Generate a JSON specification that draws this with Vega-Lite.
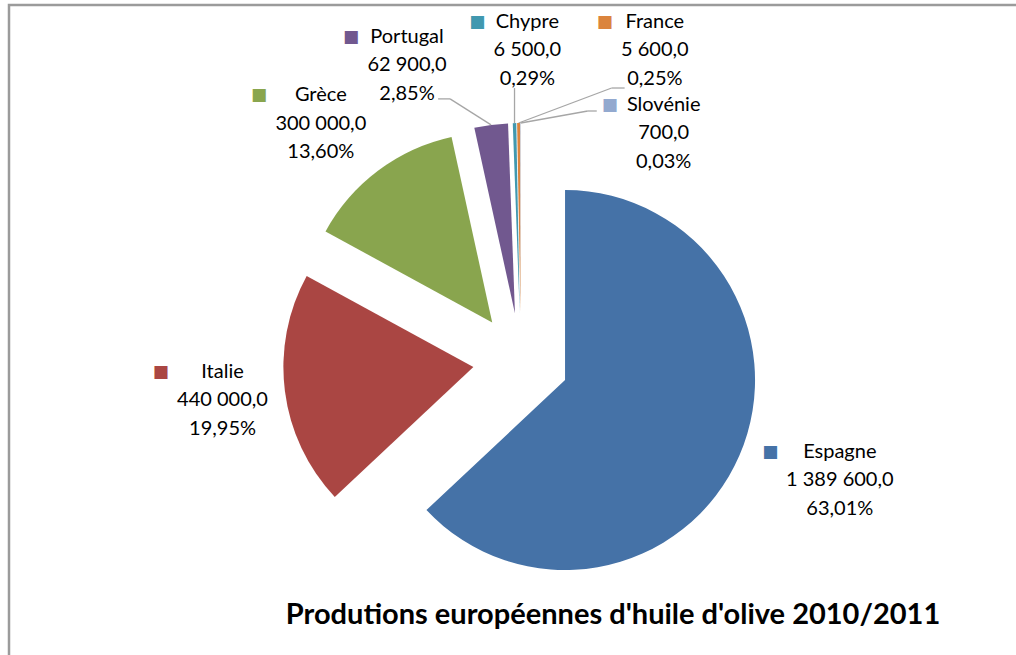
{
  "$schema": "https://vega.github.io/schema/vega-lite/v6.json",
  "width": 1013,
  "height": 656,
  "autosize": {"type": "none"},
  "padding": {"left": 9, "top": 5, "right": -6, "bottom": -6},
  "background": "white",
  "config": {
    "view": {"stroke": "#9b9b9b", "strokeWidth": 2.5},
    "locale": {"number": {"decimal": ",", "thousands": "\u00a0", "grouping": [3], "currency": ["", "\u00a0€"]}},
    "font": "Lato"
  },
  "params": [
    {"name": "ndx", "value": {"Espagne": 27, "Italie": 17, "Grèce": -9.5, "Portugal": -74, "Chypre": 15, "France": 137, "Slovénie": 143}},
    {"name": "ndy", "value": {"Espagne": -7, "Italie": -1, "Grèce": 17, "Portugal": 19.5, "Chypre": 7, "France": 7, "Slovénie": 90}},
    {"name": "lex", "value": {"Portugal": -41, "Chypre": 0, "France": 93, "Slovénie": 67}},
    {"name": "ley", "value": {"Portugal": -26, "Chypre": -35, "France": -35, "Slovénie": -12}},
    {"name": "lfx", "value": {"Portugal": -53, "Chypre": 0, "France": 106, "Slovénie": 76}}
  ],
  "title": {
    "text": "Produtions européennes d'huile d'olive 2010/2011",
    "orient": "bottom",
    "frame": "group",
    "anchor": "middle",
    "baseline": "alphabetic",
    "offset": -37,
    "dx": 97.5,
    "font": "Lato",
    "fontSize": 29,
    "fontWeight": "bold",
    "color": "#000000"
  },
  "data": {
    "values": [
      {"pays": "Espagne", "production": 1389600},
      {"pays": "Italie", "production": 440000},
      {"pays": "Grèce", "production": 300000},
      {"pays": "Portugal", "production": 62900},
      {"pays": "Chypre", "production": 6500},
      {"pays": "France", "production": 5600},
      {"pays": "Slovénie", "production": 700}
    ]
  },
  "transform": [
    {"window": [{"op": "sum", "field": "production", "as": "cum"}], "sort": [{"field": "production", "order": "descending"}], "frame": [null, 0]},
    {"joinaggregate": [{"op": "sum", "field": "production", "as": "total"}]},
    {"calculate": "(datum.cum - datum.production) / datum.total", "as": "f0"},
    {"calculate": "datum.cum / datum.total", "as": "f1"},
    {"calculate": "(datum.f0 + datum.f1) / 2", "as": "fm"},
    {"calculate": "sin(2 * PI * datum.fm)", "as": "ux"},
    {"calculate": "cos(2 * PI * datum.fm)", "as": "uy"},
    {"calculate": "datum.ux * (1 + 190 / 48)", "as": "ex"},
    {"calculate": "datum.uy * (1 + 190 / 48)", "as": "ey"},
    {"calculate": "format(datum.production, ',.1f')", "as": "vtxt"},
    {"calculate": "format(datum.production / datum.total, '.2%')", "as": "ptxt"},
    {"calculate": "datum.pays + '\\n' + datum.vtxt + '\\n' + datum.ptxt", "as": "lbl"},
    {"calculate": "length(datum.vtxt) - length(replace(datum.vtxt, regexp('[0-9]', 'g'), ''))", "as": "nd"},
    {"calculate": "length(datum.pays) > length(datum.vtxt) ? 9.25 * length(datum.pays) : 11.6 * datum.nd + 4.3 + 3.86 * (length(datum.vtxt) - datum.nd - 1)", "as": "ww"}
  ],
  "encoding": {
    "x": {"field": "ux", "type": "quantitative", "stack": null, "scale": {"domain": [-10.6667, 10.4375], "nice": false, "zero": false}, "axis": null},
    "y": {"field": "uy", "type": "quantitative", "stack": null, "scale": {"domain": [-6.25, 7.4167], "nice": false, "zero": false}, "axis": null}
  },
  "layer": [
    {
      "mark": {"type": "arc", "radius": 190},
      "encoding": {
        "theta": {"field": "f0", "type": "quantitative", "stack": null, "scale": {"domain": [0, 1], "range": [0, 6.283185307179586]}},
        "theta2": {"field": "f1"},
        "color": {"field": "pays", "type": "nominal", "legend": null,
          "scale": {"domain": ["Espagne", "Italie", "Grèce", "Portugal", "Chypre", "France", "Slovénie"],
                    "range": ["#4572A7", "#AA4643", "#89A54E", "#71588F", "#4198AF", "#DB843D", "#93A9CF"]}}
      }
    },
    {
      "transform": [{"filter": {"field": "pays", "oneOf": ["Portugal", "Chypre", "France", "Slovénie"]}}],
      "mark": {"type": "rule", "color": "#a6a6a6", "strokeWidth": 1.3,
               "x2Offset": {"expr": "lex[datum.pays]"}, "y2Offset": {"expr": "ley[datum.pays]"}},
      "encoding": {
        "x": {"field": "ex", "type": "quantitative"},
        "y": {"field": "ey", "type": "quantitative"},
        "x2": {"field": "ex"},
        "y2": {"field": "ey"}
      }
    },
    {
      "transform": [{"filter": {"field": "pays", "oneOf": ["Portugal", "Chypre", "France", "Slovénie"]}}],
      "mark": {"type": "rule", "color": "#a6a6a6", "strokeWidth": 1.3,
               "xOffset": {"expr": "lex[datum.pays]"}, "yOffset": {"expr": "ley[datum.pays]"},
               "x2Offset": {"expr": "lfx[datum.pays]"}, "y2Offset": {"expr": "ley[datum.pays]"}},
      "encoding": {
        "x": {"field": "ex", "type": "quantitative"},
        "y": {"field": "ey", "type": "quantitative"},
        "x2": {"field": "ex"},
        "y2": {"field": "ey"}
      }
    },
    {
      "mark": {"type": "text", "radius": 270, "align": "center", "baseline": "middle", "font": "DejaVu Sans", "fontSize": 17,
               "dx": {"expr": "ndx[datum.pays] - datum.ww / 2 - 17"}, "dy": {"expr": "ndy[datum.pays] - 28.5"}},
      "encoding": {
        "theta": {"field": "fm", "type": "quantitative", "stack": null, "scale": {"domain": [0, 1], "range": [0, 6.283185307179586]}},
        "text": {"value": "\u25a0"},
        "color": {"field": "pays", "type": "nominal", "legend": null}
      }
    },
    {
      "mark": {"type": "text", "radius": 270, "align": "center", "baseline": "middle", "font": "Lato", "fontSize": 20,
               "lineBreak": "\n", "lineHeight": 28.5, "color": "#000000",
               "dx": {"expr": "ndx[datum.pays]"}, "dy": {"expr": "ndy[datum.pays] - 28.5"}},
      "encoding": {
        "theta": {"field": "fm", "type": "quantitative", "stack": null, "scale": {"domain": [0, 1], "range": [0, 6.283185307179586]}},
        "text": {"field": "lbl"}
      }
    }
  ]
}
